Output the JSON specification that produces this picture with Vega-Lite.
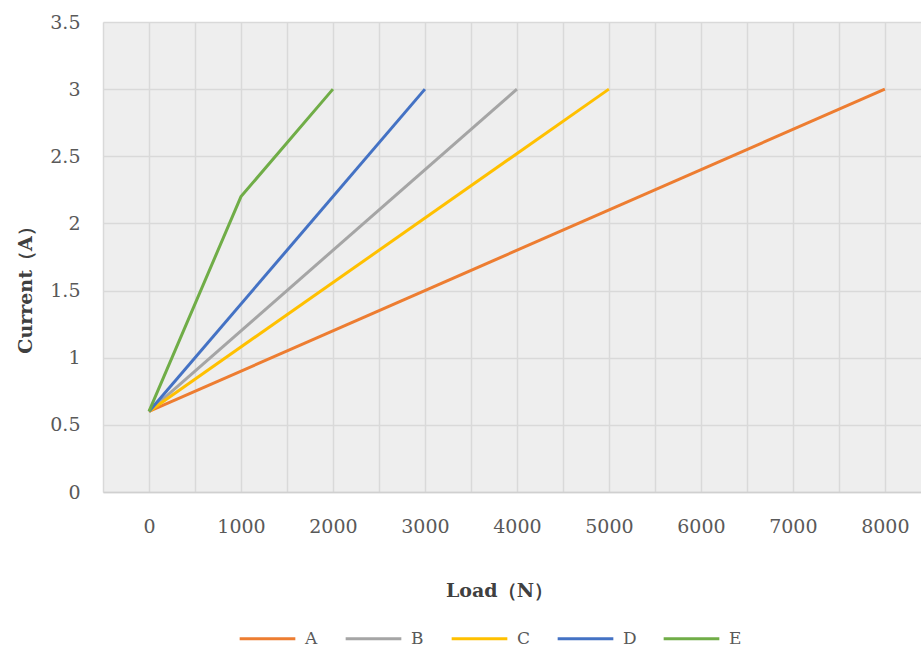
{
  "$schema": "https://vega.github.io/schema/vega-lite/v6.json",
  "autosize": "none",
  "width": 818,
  "height": 470,
  "padding": {"left": 103, "top": 22, "right": 0, "bottom": 165},
  "background": "white",
  "config": {
    "view": {"fill": "#eeeeee", "stroke": null},
    "font": "DejaVu Serif"
  },
  "data": {
    "values": [
      {"series": "A", "load": 0, "current": 0.6},
      {"series": "A", "load": 8000, "current": 3},
      {"series": "B", "load": 0, "current": 0.6},
      {"series": "B", "load": 4000, "current": 3},
      {"series": "C", "load": 0, "current": 0.6},
      {"series": "C", "load": 5000, "current": 3},
      {"series": "D", "load": 0, "current": 0.6},
      {"series": "D", "load": 3000, "current": 3},
      {"series": "E", "load": 0, "current": 0.6},
      {"series": "E", "load": 1000, "current": 2.2},
      {"series": "E", "load": 2000, "current": 3}
    ]
  },
  "mark": {"type": "line", "strokeWidth": 3},
  "encoding": {
    "x": {
      "field": "load",
      "type": "quantitative",
      "scale": {"domain": [-500, 8393], "nice": false, "zero": false},
      "axis": {
        "values": [-500, 0, 500, 1000, 1500, 2000, 2500, 3000, 3500, 4000, 4500, 5000, 5500, 6000, 6500, 7000, 7500, 8000],
        "format": "d",
        "labelExpr": "datum.value % 1000 == 0 ? datum.label : ''",
        "title": "Load（N）",
        "titleFont": "DejaVu Serif",
        "titleFontSize": 19,
        "titleFontWeight": "bold",
        "titleColor": "#404040",
        "titleX": 396,
        "titleY": 98,
        "titleBaseline": "middle",
        "titleAnchor": "middle",
        "labelFontSize": 19,
        "labelColor": "#595959",
        "labelPadding": 34,
        "labelBaseline": "middle",
        "ticks": false,
        "domain": true,
        "domainColor": "#d0d0d0",
        "domainWidth": 1.5,
        "grid": true,
        "gridColor": "#d9d9d9",
        "gridWidth": 1.5
      }
    },
    "y": {
      "field": "current",
      "type": "quantitative",
      "scale": {"domain": [0, 3.5], "nice": false},
      "axis": {
        "values": [0, 0.5, 1, 1.5, 2, 2.5, 3, 3.5],
        "format": "~g",
        "title": "Current（A）",
        "titleFont": "DejaVu Serif",
        "titleFontSize": 19,
        "titleFontWeight": "bold",
        "titleColor": "#404040",
        "titleX": -78,
        "titleY": 263,
        "titleBaseline": "middle",
        "titleAngle": -90,
        "labelFontSize": 19,
        "labelColor": "#595959",
        "labelPadding": 23,
        "ticks": false,
        "domain": false,
        "grid": true,
        "gridColor": "#d9d9d9",
        "gridWidth": 1.5
      }
    },
    "color": {
      "field": "series",
      "type": "nominal",
      "scale": {
        "domain": ["A", "B", "C", "D", "E"],
        "range": ["#ED7D31", "#A5A5A5", "#FFC000", "#4472C4", "#70AD47"]
      },
      "legend": {
        "title": null,
        "orient": "none",
        "direction": "horizontal",
        "legendX": 135,
        "legendY": 587,
        "symbolType": "stroke",
        "symbolSize": 3100,
        "symbolStrokeWidth": 3,
        "labelFontSize": 17,
        "labelColor": "#595959",
        "labelOffset": 8,
        "gridAlign": "all",
        "columnPadding": 20
      }
    }
  }
}
